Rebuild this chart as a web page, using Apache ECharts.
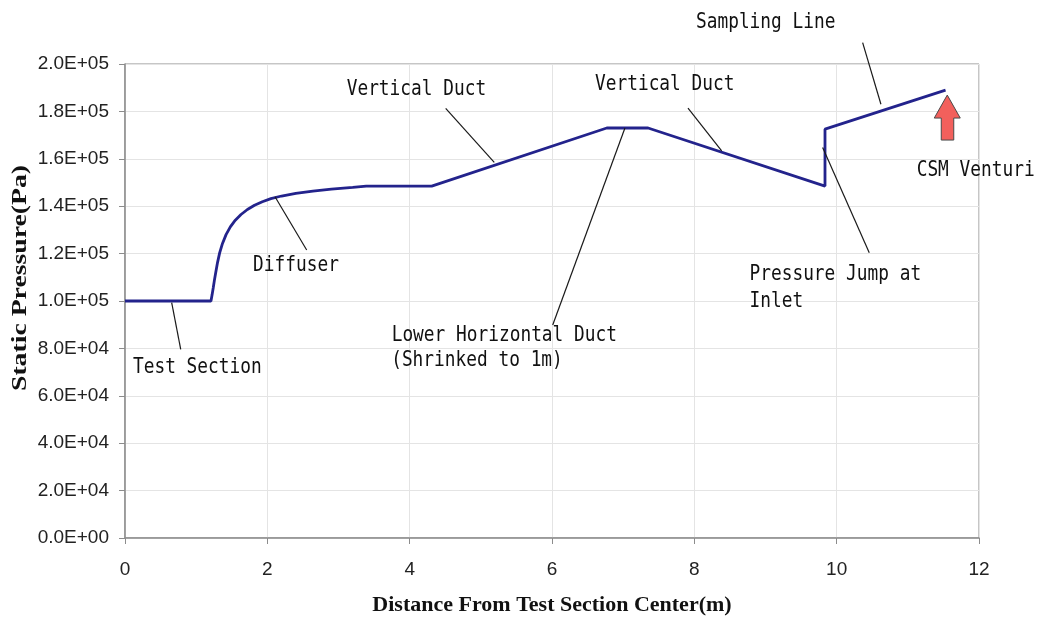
<!DOCTYPE html>
<html>
<head>
<meta charset="utf-8">
<title>Static Pressure Along the Duct</title>
<script src="https://cdn.jsdelivr.net/npm/echarts@6/dist/echarts.min.js"></script>
<style>
  html, body { margin: 0; padding: 0; background: #ffffff; }
  #chart { width: 1040px; height: 622px; }
</style>
</head>
<body>
<div id="chart"></div>
<script>
// Static pressure profile (Pa) versus distance from the test section center (m)
const distance = [0, 1.208, 1.225, 1.24, 1.255, 1.275, 1.30, 1.33, 1.37, 1.42, 1.48, 1.55, 1.63, 1.72,
                  1.82, 1.93, 2.05, 2.20, 2.40, 2.64, 2.90, 3.20, 3.39, 4.31,
                  6.77, 7.35, 9.836, 9.836, 11.53];
const pressure = [100000, 100000, 102800, 105600, 108500, 112000, 116200, 120300, 124300, 128000, 131300, 134100, 136500, 138600,
                  140400, 141900, 143200, 144300, 145400, 146400, 147200, 147900, 148500, 148500,
                  173000, 173000, 148500, 172500, 189000];

const xTickLabels = ['0', '2', '4', '6', '8', '10', '12'];
const yTickLabels = ['0.0E+00', '2.0E+04', '4.0E+04', '6.0E+04', '8.0E+04', '1.0E+05',
                     '1.2E+05', '1.4E+05', '1.6E+05', '1.8E+05', '2.0E+05'];

// Callout texts, anchored in data units (distance, pressure)
const noteTexts = ['Test Section', 'Diffuser', 'Vertical Duct', 'Lower Horizontal Duct',
                   '(Shrinked to 1m)', 'Vertical Duct', 'Pressure Jump at', 'Inlet',
                   'Sampling Line', 'CSM Venturi'];
const noteAnchors = [[0.112, 72150], [1.80, 115200], [3.115, 189450], [3.747, 85650],
                     [3.74, 75100], [6.604, 191560], [8.775, 111400], [8.775, 100000],
                     [8.023, 217430], [11.124, 155270]];

// Leader lines from each callout to the curve, in data units
const leaders = [
  [[0.656, 99300], [0.783, 79600]],
  [[2.108, 144000], [2.553, 121500]],
  [[4.506, 181300], [5.189, 158500]],
  [[7.025, 173000], [6.01, 89900]],
  [[7.911, 181400], [8.384, 163300]],
  [[9.803, 164800], [10.458, 120400]],
  [[10.365, 209000], [10.622, 183000]]
];

// Tip of the arrow marking the venturi
const venturiTip = [11.554, 186900];

const chart = echarts.init(document.getElementById('chart'), null, { renderer: 'canvas' });

const X_STEP = 2, Y_STEP = 20000;

chart.setOption({
  animation: false,
  backgroundColor: '#ffffff',
  grid: {
    left: 125, right: 61, top: 64, bottom: 84,
    show: true, borderColor: '#8c8c8c', borderWidth: 1, backgroundColor: 'transparent'
  },
  xAxis: {
    type: 'value', min: 0, max: 12, interval: X_STEP,
    name: 'Distance From Test Section Center(m)',
    nameLocation: 'middle', nameGap: 56,
    nameTextStyle: { fontFamily: 'Liberation Serif', fontWeight: 'bold', fontSize: 22, color: '#111' },
    axisLine: { show: true, onZero: false, lineStyle: { color: '#8c8c8c', width: 1.5 } },
    axisTick: { show: true, inside: false, length: 6, lineStyle: { color: '#8c8c8c' } },
    axisLabel: {
      margin: 22, fontFamily: 'Liberation Sans', fontSize: 19, color: '#222',
      formatter: v => xTickLabels[Math.round(v / X_STEP)]
    },
    splitLine: { show: true, lineStyle: { color: '#e4e4e4', width: 1 } }
  },
  yAxis: {
    type: 'value', min: 0, max: 200000, interval: Y_STEP,
    axisLine: { show: true, onZero: false, lineStyle: { color: '#8c8c8c', width: 1.5 } },
    axisTick: { show: true, inside: false, length: 6, lineStyle: { color: '#8c8c8c' } },
    axisLabel: {
      margin: 16, fontFamily: 'Liberation Sans', fontSize: 19, color: '#222',
      formatter: v => yTickLabels[Math.round(v / Y_STEP)]
    },
    splitLine: { show: true, lineStyle: { color: '#e4e4e4', width: 1 } }
  },
  series: [{
    type: 'line',
    data: distance.map((d, i) => [d, pressure[i]]),
    showSymbol: false,
    symbol: 'none',
    lineStyle: { color: '#23238c', width: 2.8 },
    clip: false,
    z: 3
  }]
});

// Callouts, leader lines, arrow and the vertical axis title
const px = p => chart.convertToPixel({ gridIndex: 0 }, p);
const graphics = [];

leaders.forEach(seg => {
  const a = px(seg[0]), b = px(seg[1]);
  graphics.push({
    type: 'line', z: 10,
    shape: { x1: a[0], y1: a[1], x2: b[0], y2: b[1] },
    style: { stroke: '#1a1a1a', lineWidth: 1.2 }
  });
});

noteTexts.forEach((t, i) => {
  const p = px(noteAnchors[i]);
  graphics.push({
    type: 'text', z: 11, x: p[0], y: p[1], scaleX: 0.81,
    style: {
      text: t, x: 0, y: 0, align: 'left', verticalAlign: 'middle',
      font: '22px "DejaVu Sans Mono"', fill: '#111'
    }
  });
});

const tip = px(venturiTip);
graphics.push({
  type: 'polygon', z: 12, x: tip[0], y: tip[1],
  shape: { points: [[0, 0], [13, 23], [6.5, 23], [6.5, 45], [-6, 45], [-6, 23], [-13, 23]] },
  style: { fill: '#f2605c', stroke: '#4a4a4a', lineWidth: 1 }
});

graphics.push({
  type: 'text', z: 11, x: 20, y: 278, rotation: Math.PI / 2, scaleX: 1.26,
  style: {
    text: 'Static Pressure(Pa)', x: 0, y: 0, align: 'center', verticalAlign: 'middle',
    font: 'bold 22px "Liberation Serif"', fill: '#111'
  }
});

chart.setOption({ graphic: graphics });
</script>
</body>
</html>
